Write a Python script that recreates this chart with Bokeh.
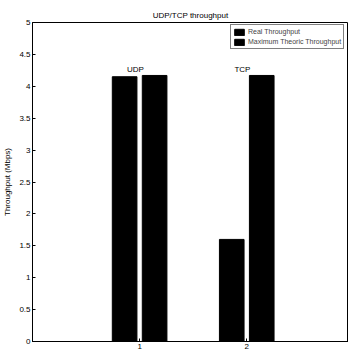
from bokeh.plotting import figure
from bokeh.models import ColumnDataSource, Range1d, FixedTicker, Legend, LegendItem, Label
from bokeh.core.properties import value
from bokeh.embed import file_html
from bokeh.resources import INLINE

groups = [1, 2]
group_names = ["UDP", "TCP"]
real_throughput = [4.15e6, 1.60e6]
max_throughput = [4.17e6, 4.17e6]
y_ticks = [0, 0.5e6, 1e6, 1.5e6, 2e6, 2.5e6, 3e6, 3.5e6, 4e6, 4.5e6, 5e6]
y_tick_labels = ["0", "0.5", "1", "1.5", "2", "2.5", "3", "3.5", "4", "4.5", "5"]

FONT = "Liberation Sans"
FS = "8px"
offset = 0.14
bw = 0.23

p = figure(width=348, height=353, output_backend="svg", toolbar_location=None,
           x_range=Range1d(0, 2.95), y_range=Range1d(0, 5e6),
           min_border_left=31, min_border_right=0, min_border_top=22, min_border_bottom=12,
           title="UDP/TCP throughput")
p.title.align = "center"
p.title.text_font = FONT
p.title.text_font_size = FS
p.title.text_font_style = "normal"
p.title.text_color = "black"
p.title.standoff = 6

p.background_fill_color = "white"
p.border_fill_color = "white"
p.outline_line_color = "black"
p.outline_line_width = 1
p.grid.visible = False

src_real = ColumnDataSource(dict(x=[g - offset for g in groups], top=real_throughput))
src_max = ColumnDataSource(dict(x=[g + offset for g in groups], top=max_throughput))
r1 = p.vbar(x="x", top="top", width=bw, source=src_real, fill_color="black", line_color="black")
r2 = p.vbar(x="x", top="top", width=bw, source=src_max, fill_color="black", line_color="black")

lab_src = ColumnDataSource(dict(x=[g - 0.04 for g in groups],
                                y=[max(a, b) for a, b in zip(real_throughput, max_throughput)],
                                t=group_names))
p.text(x="x", y="y", text="t", source=lab_src, text_font=value(FONT), text_font_size=FS,
       text_align="center", text_baseline="bottom", y_offset=-1, text_color="black")

p.xaxis.ticker = FixedTicker(ticks=groups)
p.yaxis.ticker = FixedTicker(ticks=y_ticks)
p.yaxis.major_label_overrides = {t: l for t, l in zip(y_ticks, y_tick_labels)}
for ax in (p.xaxis, p.yaxis):
    ax.major_tick_in = 3
    ax.major_tick_out = 0
    ax.minor_tick_in = 0
    ax.minor_tick_out = 0
    ax.axis_line_color = "black"
    ax.major_tick_line_color = "black"
    ax.major_label_text_font = FONT
    ax.major_label_text_font_size = FS
    ax.major_label_text_color = "black"
    ax.major_label_standoff = 2
p.yaxis.axis_label = "Throughput (Mbps)"
p.yaxis.axis_label_text_font = FONT
p.yaxis.axis_label_text_font_size = FS
p.yaxis.axis_label_text_font_style = "normal"
p.yaxis.axis_label_text_color = "black"
p.yaxis.axis_label_standoff = 4

p.add_layout(Label(x=0, y=5e6, x_units="data", y_units="data", text="x 10", text_font=FONT,
                   text_font_size="7px", x_offset=-1, y_offset=2, text_baseline="bottom"))
p.add_layout(Label(x=0, y=5e6, text="6", text_font=FONT, text_font_size="5px",
                   x_offset=15, y_offset=7, text_baseline="bottom"))

legend = Legend(items=[LegendItem(label="Real Throughput", renderers=[r1]),
                       LegendItem(label="Maximum Theoric Throughput", renderers=[r2])],
                location=(198, 292))
legend.label_text_font = FONT
legend.label_text_font_size = "7px"
legend.glyph_width = 12
legend.glyph_height = 8
legend.label_height = 9
legend.label_standoff = 3
legend.spacing = 1
legend.padding = 2
legend.margin = 0
legend.border_line_color = "black"
legend.border_line_width = 1
legend.background_fill_alpha = 1
p.add_layout(legend, "center")

open("out.html", "w").write(file_html(p, INLINE))
